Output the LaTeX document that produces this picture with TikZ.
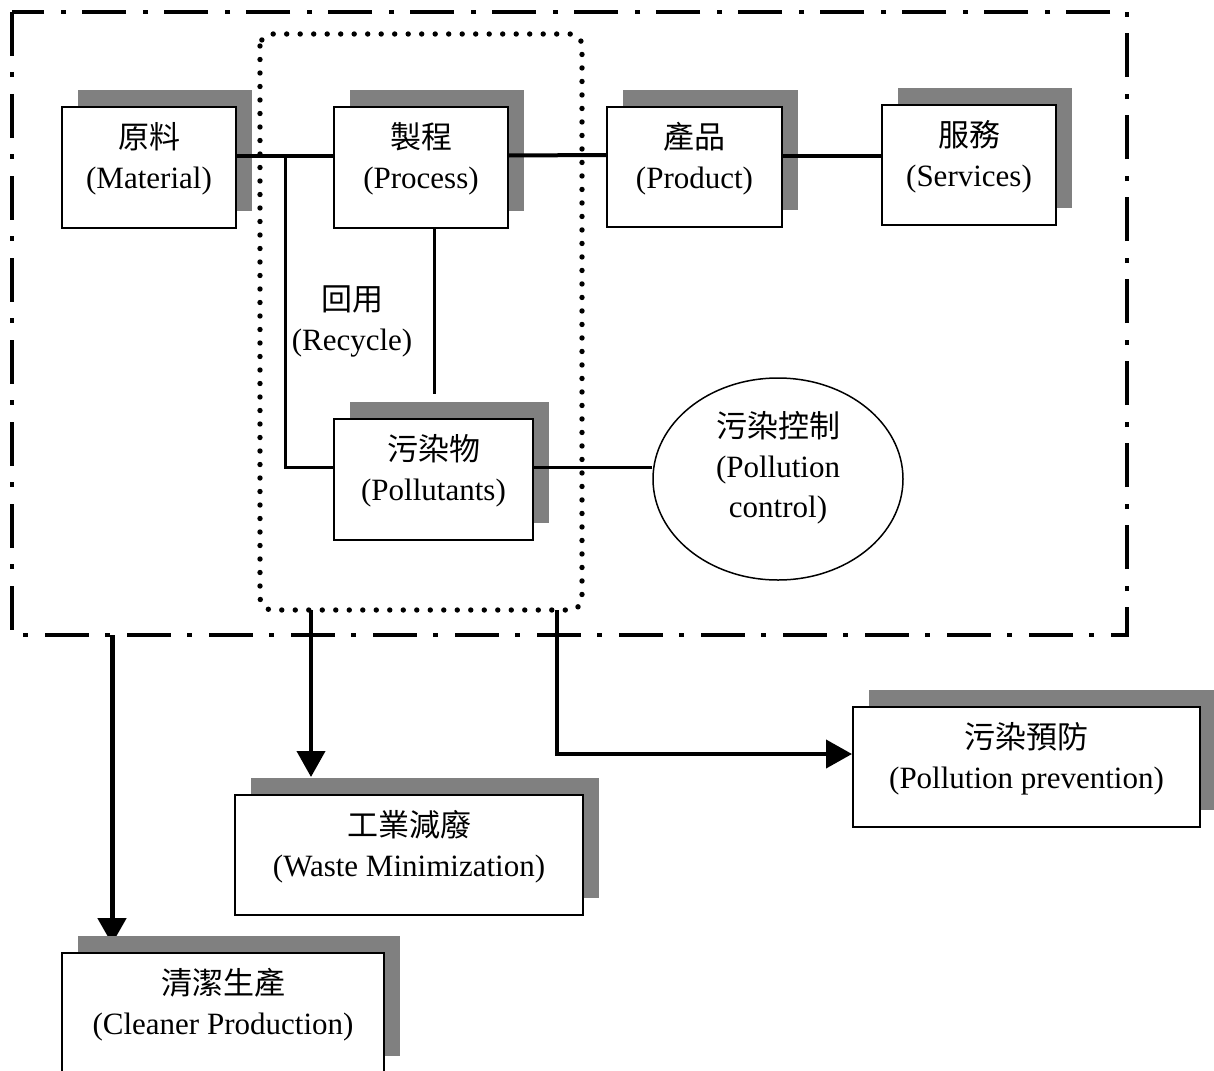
\documentclass[tikz,border=0pt]{standalone}
\usepackage{fontspec}
\setmainfont{Liberation Serif}
\newfontfamily\cjk{Noto Sans CJK TC}
\usetikzlibrary{shapes.geometric,shadows,arrows.meta,backgrounds}

\definecolor{shadowgray}{HTML}{808080}

% two-line label: Chinese term over its English name, lifted slightly in the box
\newcommand\twoline[2]{{\cjk #1}\\#2\rule[-12pt]{0pt}{12pt}}

\tikzset{
  txt/.style={font=\fontsize{15.5}{20}\selectfont, align=center, inner sep=0pt},
  stepbox/.style={txt, draw, line width=1pt, fill=white,
    general shadow={fill=shadowgray, shadow xshift=8pt, shadow yshift=8.5pt}},
  ctrlshape/.style={txt, ellipse, draw, line width=0.75pt, fill=white,
    minimum width=125pt, minimum height=101pt},
  heavy/.style={line width=2pt},
  light/.style={line width=1.5pt},
  arr/.style={line width=2pt, -{Triangle[length=13pt,width=14pt]}},
  outerframe/.style={line width=2pt, dash pattern=on 22pt off 8pt on 2.5pt off 8.5pt},
  dotframe/.style={line width=2.7pt, line cap=round, dash pattern=on 0pt off 6.75pt},
}

\begin{document}
\begin{tikzpicture}[x=0.5pt, y=-0.5pt]
\useasboundingbox (0,0) rectangle (1214,1070);

% process chain
\node[stepbox, minimum width=87pt, minimum height=60.5pt] (mat) at (149,167.5) {\twoline{原料}{(Material)}};
\node[stepbox, minimum width=87pt, minimum height=60.5pt] (proc) at (421,167.5) {\twoline{製程}{(Process)}};
\node[stepbox, minimum width=87.5pt, minimum height=60pt] (prod) at (694.5,167) {\twoline{產品}{(Product)}};
\node[stepbox, minimum width=87pt, minimum height=60pt] (serv) at (969,165) {\twoline{服務}{(Services)}};

% waste stream
\node[stepbox, minimum width=99.5pt, minimum height=60.5pt] (poll) at (433.5,479.5) {\twoline{污染物}{(Pollutants)}};
\node[ctrlshape] (ctrl) at (778,479) {{\cjk 污染控制}\\(Pollution\\control)\rule[-15pt]{0pt}{15pt}};
\node[txt] (rec) at (352,321) {{\cjk 回用}\\(Recycle)};

% strategies
\node[stepbox, minimum width=173.5pt, minimum height=60pt] (prev) at (1026.5,767) {\twoline{污染預防}{(Pollution prevention)}};
\node[stepbox, minimum width=174pt, minimum height=60pt] (waste) at (409,855) {\twoline{工業減廢}{(Waste Minimization)}};
\node[stepbox, minimum width=161pt, minimum height=60pt] (clean) at (223,1013) {\twoline{清潔生產}{(Cleaner Production)}};

% links between the steps
\coordinate (rj) at (285,155);
\coordinate (rd) at (434,394);
\draw[heavy] ([yshift=6pt]mat.east) -- ([yshift=6pt]proc.west);
\draw[heavy] ([yshift=6pt]proc.east) -- ([yshift=6pt]prod.west);
\draw[heavy] ([yshift=5.5pt]prod.east) -- ([yshift=5.5pt]prod.east -| serv.west);
\draw[light] (rj) |- ([yshift=6pt]poll.west);
\draw[light] (proc.south -| rd) -- (rd);
\draw[light] ([yshift=6pt]poll.east) -- ([yshift=6pt]poll.east -| ctrl.west);

% scope frames
\coordinate (cpsrc) at (112,635);
\coordinate (wmsrc) at (311,610);
\coordinate (ppsrc) at (557,610);
\draw[outerframe] (12,12) rectangle (1127,635);
\draw[dotframe, rounded corners=6pt] (260,34) rectangle (582,610);

% arrows to the strategy boxes, tips tucked under the shadows
\begin{scope}[on background layer]
\draw[arr, line width=2.5pt, shorten >=4pt] (cpsrc) -- (cpsrc |- clean.north);
\draw[arr, shorten >=8.5pt] (wmsrc) -- (wmsrc |- waste.north);
\draw[arr] (ppsrc) |- ([yshift=6.5pt]prev.west);
\end{scope}
\end{tikzpicture}
\end{document}
